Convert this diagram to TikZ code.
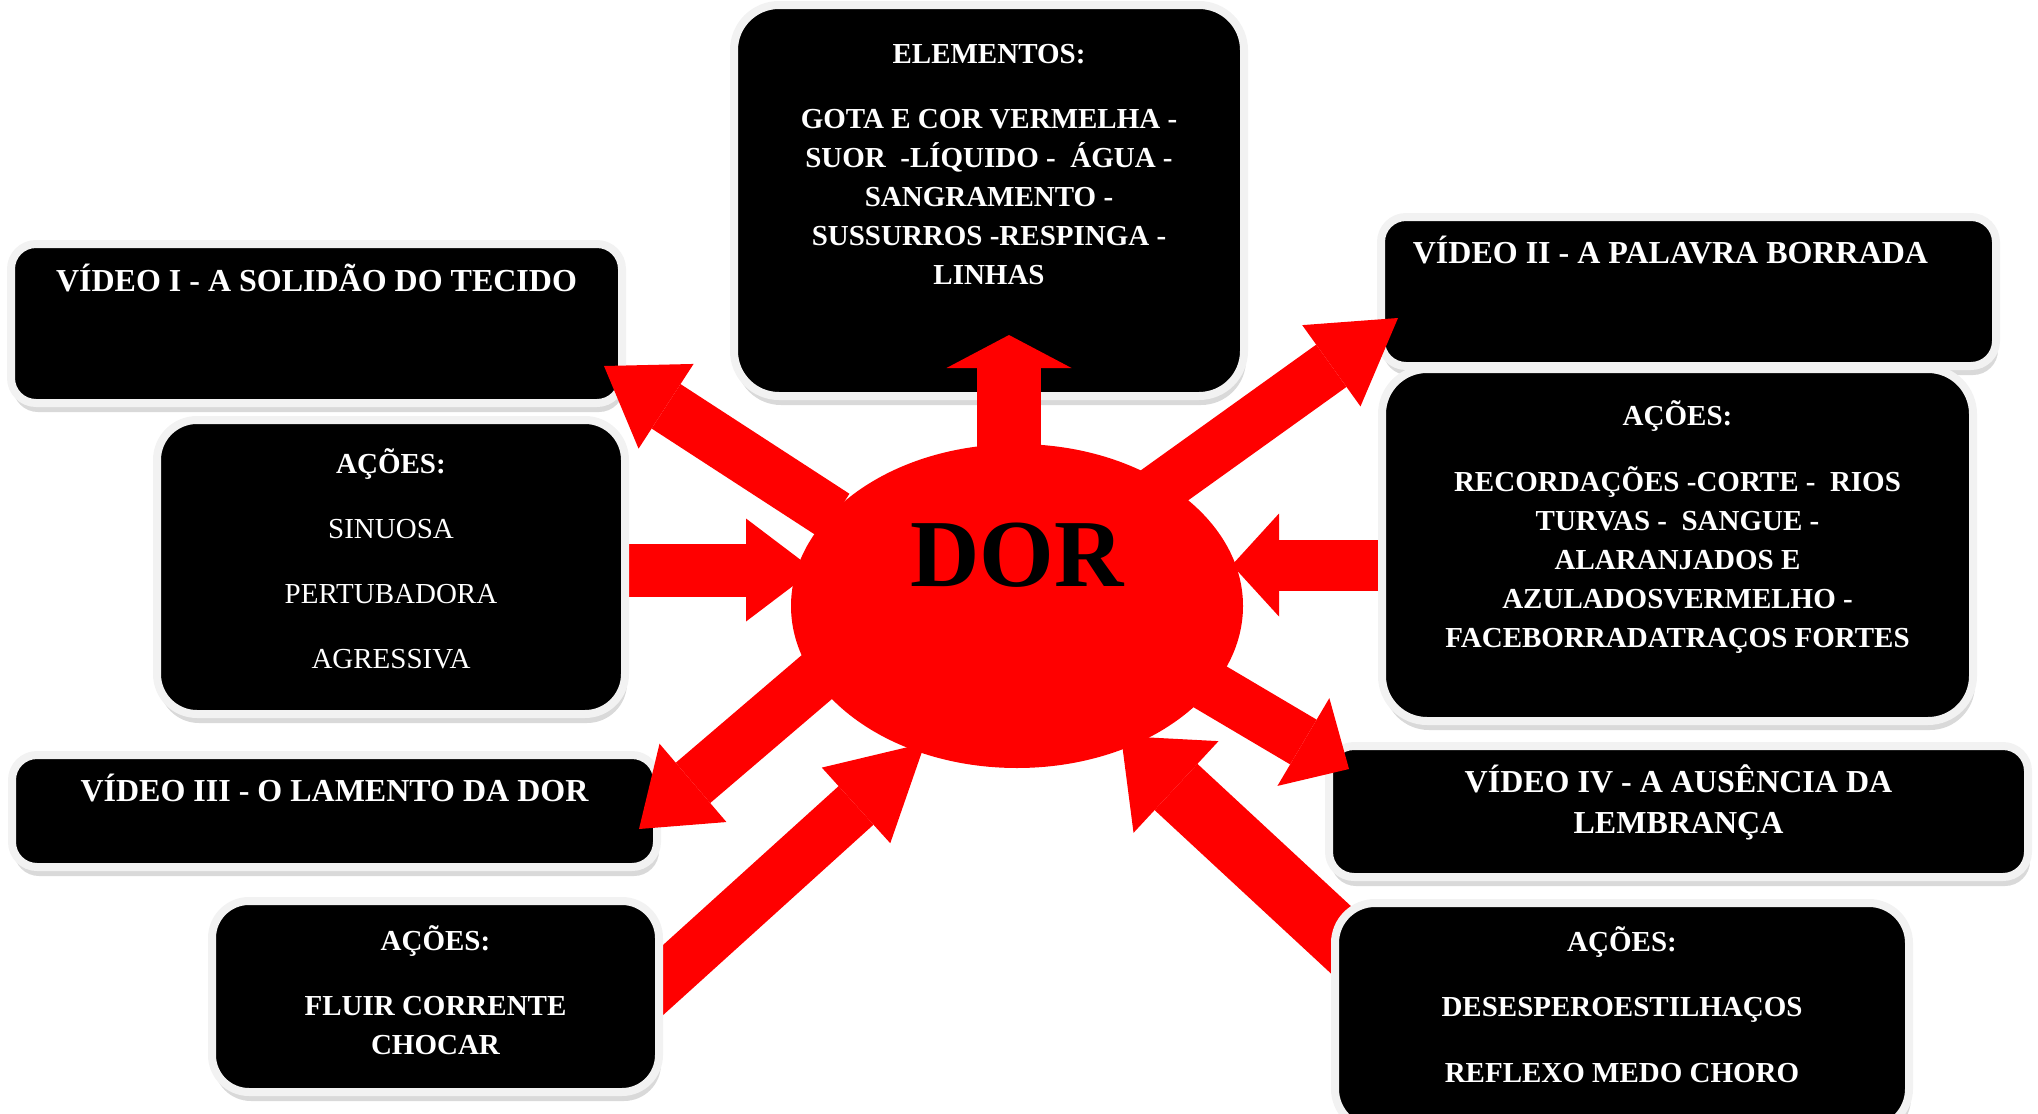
\documentclass[tikz,border=0pt]{standalone}
\usepackage{fontspec}
\setmainfont{Liberation Serif}
\usepackage{tikz}
\usetikzlibrary{positioning}
\usetikzlibrary{arrows.meta}
\usetikzlibrary{shapes.geometric}
\usetikzlibrary{shadows}

\tikzset{
  panel/.style={fill=black, draw=gray!10, line width=8pt, inner sep=0pt, rounded corners=#1,
    drop shadow={shadow xshift=2pt, shadow yshift=-9pt, opacity=.3}},
  panel/.default=25pt,
  title/.style={text=white, font=\fontsize{32}{41}\selectfont\bfseries, align=center, inner sep=0pt},
  body/.style={text=white, font=\fontsize{29}{39}\selectfont\bfseries, align=center, inner sep=0pt},
  bigarrow/.style n args={3}{draw=red, line width=#1, -{Triangle[width=#2, length=#3, line width=0pt]}}
}

\begin{document}
\begin{tikzpicture}[x=1pt, y=-1pt]
                \useasboundingbox (0,0) rectangle (2038,1114);

                \coordinate(elemtail) at (1009,520);
                \coordinate(elemtip) at (1009,335);
                \coordinate(vid1tail) at (835,516);
                \coordinate(vid1tip) at (604,366);
                \coordinate(ac1tail) at (600,570);
                \coordinate(ac1tip) at (814,570);
                \coordinate(vid3tail) at (845,653);
                \coordinate(vid3tip) at (639,829);
                \coordinate(ac3tail) at (620,1019);
                \coordinate(ac3tip) at (925,743);
                \coordinate(vid2tail) at (1151,495);
                \coordinate(vid2tip) at (1398,318);
                \coordinate(ac2tail) at (1410,565);
                \coordinate(ac2tip) at (1232,565);
                \coordinate(vid4tail) at (1114,630);
                \coordinate(vid4tip) at (1349,769);
                \coordinate(ac4tail) at (1380,976);
                \coordinate(ac4tip) at (1121,736);

                \draw[bigarrow={53pt}{103pt}{68pt}] (ac1tail) -- (ac1tip);
                \draw[bigarrow={52pt}{102pt}{93pt}] (ac3tail) -- (ac3tip);
                \draw[bigarrow={51pt}{103pt}{47pt}] (ac2tail) -- (ac2tip);
                \draw[bigarrow={63pt}{125pt}{75pt}] (ac4tail) -- (ac4tip);

                \node(elem) [panel=45pt, minimum width=510pt, minimum height=391pt] at (989,200.5) {};
                \node(vid1) [panel, minimum width=611pt, minimum height=159pt] at (316.5,323.5) {};
                \node(ac1) [panel=40pt, minimum width=468pt, minimum height=294pt] at (391,567) {};
                \node(vid3) [panel, minimum width=645pt, minimum height=112pt] at (334.5,811) {};
                \node(ac3) [panel=37pt, minimum width=447pt, minimum height=191pt] at (435.5,996.5) {};
                \node(vid2) [panel, minimum width=615pt, minimum height=149pt] at (1688.5,291.5) {};
                \node(ac2) [panel=45pt, minimum width=591pt, minimum height=352pt] at (1677.5,545) {};
                \node(vid4) [panel, minimum width=699pt, minimum height=131pt] at (1678.5,811.5) {};
                \node(ac4) [panel=40pt, minimum width=574pt, minimum height=226pt] at (1622,1016) {};

                \node(elemtxt) [body, below=35pt of elem.north] {\strut ELEMENTOS:\\[26pt]
                    GOTA E COR VERMELHA -\\ SUOR \ -LÍQUIDO - \ ÁGUA -\\ SANGRAMENTO -\\
                    SUSSURROS -RESPINGA -\\ LINHAS};
                \node(vid1txt) [title, below=23pt of vid1.north] {\strut VÍDEO I - A SOLIDÃO DO TECIDO};
                \node(ac1txt) [body, below=30pt of ac1.north] {\strut AÇÕES:\\[26pt]
                    \mdseries SINUOSA\\[26pt] \mdseries PERTUBADORA\\[26pt] \mdseries AGRESSIVA};
                \node(vid3txt) [title, below=22pt of vid3.north] {\strut VÍDEO III - O LAMENTO DA DOR};
                \node(ac3txt) [body, below=26pt of ac3.north] {\strut AÇÕES:\\[26pt] FLUIR CORRENTE\\ CHOCAR};
                \node(vid2txt) [title, below=22pt of vid2.north, xshift=-18pt] {\strut VÍDEO II - A PALAVRA BORRADA};
                \node(ac2txt) [body, below=33pt of ac2.north] {\strut AÇÕES:\\[27pt]
                    RECORDAÇÕES -CORTE - \ RIOS\\ TURVAS - \ SANGUE -\\ ALARANJADOS E\\
                    AZULADOSVERMELHO -\\ FACEBORRADATRAÇOS FORTES};
                \node(vid4txt) [title, below=22pt of vid4.north] {\strut VÍDEO IV - A AUSÊNCIA DA\\ LEMBRANÇA};
                \node(ac4txt) [body, below=25pt of ac4.north] {\strut AÇÕES:\\[26pt]
                    DESESPEROESTILHAÇOS\\[27pt] REFLEXO MEDO CHORO};

                \node(dor) [ellipse, fill=red, inner sep=0pt, minimum width=452pt, minimum height=324pt] at (1017,606) {};

                \draw[bigarrow={64pt}{125pt}{33pt}] (elemtail) -- (elemtip);
                \draw[bigarrow={53pt}{101pt}{74pt}] (vid1tail) -- (vid1tip);
                \draw[bigarrow={53pt}{103pt}{71pt}] (vid3tail) -- (vid3tip);
                \draw[bigarrow={52pt}{100pt}{82pt}] (vid2tail) -- (vid2tip);
                \draw[bigarrow={52pt}{102pt}{53pt}] (vid4tail) -- (vid4tip);

                \node(dorlbl) [anchor=base, font=\fontsize{96}{100}\selectfont\bfseries] at ([yshift=20pt]dor.center) {DOR};
            \end{tikzpicture}
\end{document}
